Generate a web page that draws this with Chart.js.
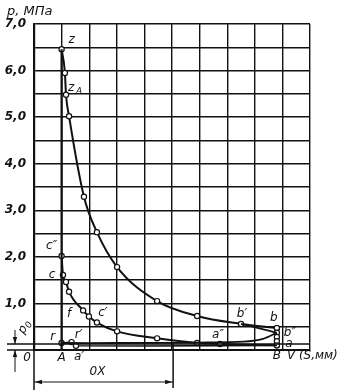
<!DOCTYPE html>
<html>
<head>
<meta charset="utf-8">
<script src="https://cdn.jsdelivr.net/npm/chart.js@4.4.0/dist/chart.umd.min.js"></script>
<style>
    html, body { margin: 0; padding: 0; background: #fff; }
</style>
</head>
<body>
<canvas id="diagram" width="352" height="391"></canvas>
<script>
// Indicator diagram: V in grid units (A = 1), p in MPa
const expansionV = [1.0, 1.12, 1.16, 1.27, 1.81, 2.28, 3.01, 4.46, 5.91, 7.5, 8.8];
const expansionP = [6.46, 5.95, 5.48, 5.02, 3.29, 2.53, 1.78, 1.05, 0.73, 0.56, 0.47];

const compressionV = [1.0, 1.05, 1.16, 1.27, 1.78, 1.99, 2.28, 3.01, 4.46, 5.91, 6.74, 8.8];
const compressionP = [2.02, 1.61, 1.46, 1.25, 0.85, 0.72, 0.59, 0.40, 0.25, 0.15, 0.13, 0.10];

const roundingV = [7.5, 8.2, 8.8];
const roundingP = [0.56, 0.46, 0.37];

const bdcLineP = [0.47, 0.37, 0.28, 0.19, 0.10];
const tdcLineP = [0, 6.46];
const V_A = 1.0;
const V_B = 8.8;

const exhaustV = [1.0, 3.0, 6.0, 7.6, 8.3, 8.8];
const exhaustP = [0.15, 0.15, 0.16, 0.18, 0.24, 0.37];

const intakeV = [1.0, 1.36, 1.52, 4.0, 8.8];
const intakeP = [0.15, 0.17, 0.09, 0.085, 0.10];

const P0 = 0.13;     // atmospheric line
const OX_END = 5.04; // end of the OX dimension

const yTickLabels = ['0', '1,0', '2,0', '3,0', '4,0', '5,0', '6,0', '7,0'];

// point names: text, subscript, V, p, offset in px
const pointNames = [
    ['z', '', 1.0, 6.46, 10, -9],
    ['z', 'A', 1.16, 5.48, 6, -7],
    ['c″', '', 1.0, 2.02, -10, -10],
    ['c', '', 1.05, 1.61, -11, 0],
    ['f', '', 1.78, 0.85, -14, 3],
    ['c′', '', 2.28, 0.59, 6, -10],
    ['r', '', 1.0, 0.15, -9, -6],
    ['r′', '', 1.36, 0.17, 7, -7],
    ['a′', '', 1.52, 0.09, 3, 11],
    ['a″', '', 6.74, 0.13, -2, -9],
    ['b′', '', 7.5, 0.56, 1, -10],
    ['b', '', 8.8, 0.47, -3, -10],
    ['b″', '', 8.8, 0.37, 13, 0],
    ['a', '', 8.8, 0.10, 12, -1]
];

const ink = '#111';
const labelFont = 'italic 12px "DejaVu Sans"';

function toPoints(xs, ys) {
    return xs.map((v, i) => ({ x: v, y: ys[i] }));
}

function arrowHead(ctx, x, y, dx, dy) {
    // dx, dy: direction the arrow points to
    const len = 7, half = 2.2;
    ctx.beginPath();
    ctx.moveTo(x, y);
    ctx.lineTo(x - dx * len - dy * half, y - dy * len - dx * half);
    ctx.lineTo(x - dx * len + dy * half, y - dy * len + dx * half);
    ctx.closePath();
    ctx.fill();
}

const decorations = {
    id: 'decorations',
    afterDraw(chart) {
        const { ctx, chartArea } = chart;
        const xs = chart.scales.x;
        const ys = chart.scales.y;
        const left = chartArea.left;
        const bottom = chartArea.bottom;
        ctx.save();
        ctx.strokeStyle = ink;
        ctx.fillStyle = ink;

        // zero line and p0 line run out to the left
        const yP0 = ys.getPixelForValue(P0);
        ctx.lineWidth = 1.6;
        ctx.beginPath();
        ctx.moveTo(7, yP0); ctx.lineTo(chartArea.right, yP0);
        ctx.moveTo(7, bottom); ctx.lineTo(left, bottom);
        ctx.stroke();

        // p0 dimension
        ctx.lineWidth = 1;
        ctx.beginPath();
        ctx.moveTo(15, yP0 - 14); ctx.lineTo(15, yP0);
        ctx.moveTo(15, bottom); ctx.lineTo(15, bottom + 22);
        ctx.stroke();
        arrowHead(ctx, 15, yP0, 0, 1);
        arrowHead(ctx, 15, bottom, 0, -1);

        // OX dimension under the plot
        const xOX = xs.getPixelForValue(OX_END);
        const yDim = bottom + 32;
        ctx.lineWidth = 1.5;
        ctx.beginPath();
        ctx.moveTo(left, bottom); ctx.lineTo(left, bottom + 40);
        ctx.moveTo(xOX, yP0 - 2); ctx.lineTo(xOX, bottom + 38);
        ctx.stroke();
        ctx.lineWidth = 1;
        ctx.beginPath();
        ctx.moveTo(left, yDim); ctx.lineTo(xOX, yDim);
        ctx.stroke();
        arrowHead(ctx, left + 1, yDim, -1, 0);
        arrowHead(ctx, xOX - 1, yDim, 1, 0);

        // texts
        ctx.font = labelFont;
        ctx.textBaseline = 'middle';
        ctx.textAlign = 'center';
        pointNames.forEach(([txt, sub, v, p, dx, dy]) => {
            const px = xs.getPixelForValue(v) + dx;
            const py = ys.getPixelForValue(p) + dy;
            if (sub) {
                ctx.textAlign = 'left';
                ctx.fillText(txt, px - 4, py);
                ctx.font = 'italic 9px "DejaVu Sans"';
                ctx.fillText(sub, px + 4, py + 4);
                ctx.font = labelFont;
                ctx.textAlign = 'center';
            } else {
                ctx.fillText(txt, px, py);
            }
        });

        ctx.fillText('A', xs.getPixelForValue(V_A), bottom + 8);
        ctx.fillText('B', xs.getPixelForValue(V_B), bottom + 6);
        ctx.fillText('0', left - 7, bottom + 8);
        ctx.fillText('0X', (left + xOX) / 2 - 6, bottom + 22);
        ctx.textAlign = 'left';
        ctx.fillText('V (S,мм)', xs.getPixelForValue(V_B) + 10, bottom + 6);

        ctx.font = 'italic 13px "DejaVu Sans"';
        ctx.fillText('p, МПа', 7, 12);

        // rotated p0
        ctx.save();
        ctx.translate(24, yP0 - 16);
        ctx.rotate(-Math.PI / 3);
        ctx.font = labelFont;
        ctx.textAlign = 'center';
        ctx.fillText('p', -2, 0);
        ctx.font = 'italic 9px "DejaVu Sans"';
        ctx.fillText('0', 5, 3);
        ctx.restore();

        ctx.restore();
    }
};

const pointStyle = {
    pointRadius: 2.6,
    pointBackgroundColor: '#fff',
    pointBorderColor: ink,
    pointBorderWidth: 1.2,
    borderColor: ink,
    showLine: true,
    fill: false
};

new Chart(document.getElementById('diagram'), {
    type: 'scatter',
    data: {
        datasets: [
            {
                data: [{ x: V_A, y: tdcLineP[0] }, { x: V_A, y: tdcLineP[1] }],
                ...pointStyle,
                pointRadius: 0,
                borderWidth: 2.2
            },
            {
                data: toPoints(exhaustV, exhaustP),
                ...pointStyle,
                pointRadius: 0,
                borderWidth: 1.8,
                tension: 0.3
            },
            {
                data: toPoints(intakeV, intakeP),
                ...pointStyle,
                pointRadius: [2.6, 2.6, 2.6, 0, 0],
                borderWidth: 1.6
            },
            {
                data: toPoints(roundingV, roundingP),
                ...pointStyle,
                pointRadius: 0,
                borderWidth: 1.8,
                tension: 0.3
            },
            {
                data: bdcLineP.map(p => ({ x: V_B, y: p })),
                ...pointStyle,
                borderWidth: 1.5
            },
            {
                data: toPoints(compressionV, compressionP),
                ...pointStyle,
                borderWidth: 2,
                cubicInterpolationMode: 'monotone'
            },
            {
                data: toPoints(expansionV, expansionP),
                ...pointStyle,
                borderWidth: 2,
                cubicInterpolationMode: 'monotone'
            }
        ]
    },
    options: {
        responsive: false,
        animation: false,
        layout: {
            padding: { top: 24, right: 42, left: 0, bottom: 0 }
        },
        scales: {
            x: {
                type: 'linear',
                min: 0,
                max: 10,
                ticks: { display: false, stepSize: 1 },
                grid: { color: ink, lineWidth: 1.4, drawTicks: false },
                border: { color: ink, width: 2 },
                afterFit: (scale) => { scale.height = 41; }
            },
            y: {
                min: 0,
                max: 7,
                ticks: {
                    stepSize: 0.5,
                    padding: 8,
                    color: ink,
                    font: { family: 'DejaVu Sans', size: 12, style: 'italic', weight: 'bold' },
                    callback: (value) => {
                        if (value === 0 || value % 1 !== 0) return '';
                        return yTickLabels[value];
                    }
                },
                grid: { color: ink, lineWidth: 1.4, drawTicks: false },
                border: { color: ink, width: 2.2 },
                afterFit: (scale) => { scale.width = 34; }
            }
        },
        plugins: {
            legend: { display: false },
            tooltip: { enabled: false }
        }
    },
    plugins: [decorations]
});
</script>
</body>
</html>
